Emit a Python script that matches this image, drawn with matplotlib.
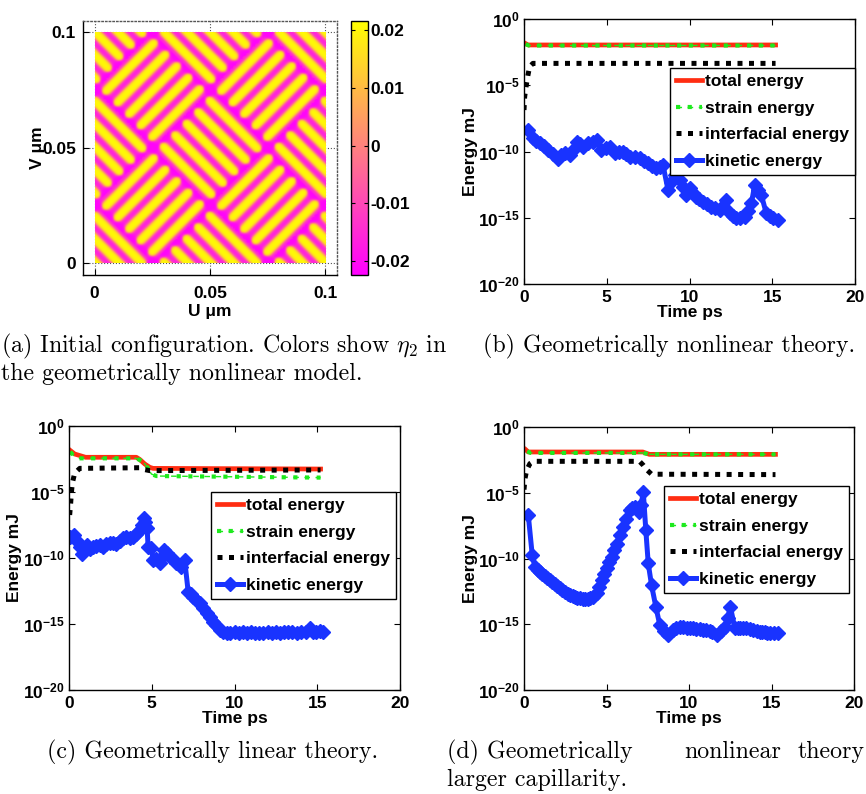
import numpy as np
import matplotlib
matplotlib.use('Agg')
import matplotlib.pyplot as plt
from matplotlib.legend_handler import HandlerTuple
from matplotlib.ticker import NullLocator

# region data
# panel (a): basket-weave pattern of eta_2 (period, stripes per block)
weave_size = 0.1
weave_period = 0.05
stripes_per_block = 5
eta_amp = 0.0215
cbar_lim = (-0.0224, 0.0216)
cbar_ticks = [-0.02, -0.01, 0, 0.01, 0.02]
cbar_labels = ['-0.02', '-0.01', '0', '0.01', '0.02']
uv_ticks = [0, 0.05, 0.1]
uv_labels = ['0', '0.05', '0.1']

# energies as log10(E / mJ), time in ps
b_tot_t = [0.0, 0.25, 15.2]
b_tot_e = [-1.79, -1.96, -1.96]
b_str_t = [0.1, 0.3, 15.2]
b_str_e = [-1.9, -2.0, -2.0]
b_int_t = [0.0, 0.04, 0.14, 0.24, 0.34, 0.54, 15.2]
b_int_e = [-6.87, -5.86, -4.98, -4.23, -3.6, -3.35, -3.35]
b_kin_t = [0.24, 0.54, 0.75, 0.95, 1.2, 1.45, 1.75, 2.05, 2.25, 2.46, 2.76, 3.0, 3.2,
           3.38, 3.56, 3.87, 4.15, 4.41, 4.67, 4.95, 5.22, 5.48, 5.75, 5.98, 6.18,
           6.38, 6.7, 6.99, 7.25, 7.49, 7.75, 8.0, 8.2, 8.4, 8.7, 8.9, 9.1, 9.41, 9.6,
           9.81, 10.0, 10.2, 10.41, 10.6, 10.82, 11.05, 11.32, 11.55, 11.82, 12.0, 12.19,
           12.43, 12.63, 12.83, 13.08, 13.33, 13.55, 13.74, 13.94, 14.15, 14.34, 14.64,
           14.85, 15.05, 15.35]
b_kin_e = [-8.38, -9.0, -9.2, -9.38, -9.6, -9.89, -10.2, -10.59, -10.3, -10.09, -10.26,
           -9.8, -9.26, -9.45, -9.64, -9.38, -9.25, -9.13, -9.89, -9.7, -9.64, -10.14,
           -10.05, -10.01, -10.2, -10.39, -10.45, -10.52, -10.7, -10.89, -11.1, -11.27,
           -11.15, -11.02, -12.9, -12.3, -11.77, -12.15, -12.7, -13.28, -12.78, -13.1,
           -13.41, -13.6, -13.79, -13.95, -14.16, -14.3, -14.42, -14.1, -13.66, -14.67,
           -14.85, -15.04, -15.0, -14.92, -14.5, -13.91, -12.53, -12.9, -13.28, -14.67,
           -14.9, -15.04, -15.17]

c_tot_t = [0.04, 0.34, 1.0, 4.07, 4.27, 4.58, 4.88, 5.08, 15.2]
c_tot_e = [-1.82, -2.12, -2.37, -2.37, -2.53, -2.88, -3.13, -3.21, -3.26]
c_str_t = [0.08, 0.24, 0.6, 4.07, 4.48, 4.78, 4.98, 5.28, 15.2]
c_str_e = [-1.94, -2.2, -2.45, -2.45, -2.7, -3.21, -3.64, -3.79, -3.91]
c_int_t = [0.04, 0.1, 0.14, 0.2, 0.34, 0.65, 4.27, 4.48, 4.88, 15.2]
c_int_e = [-6.74, -5.86, -5.1, -4.34, -3.59, -3.21, -3.16, -3.28, -3.38, -3.33]
c_kin_t = [0.08, 0.28, 0.5, 0.65, 0.81, 1.09, 1.27, 1.45, 1.65, 1.85, 2.05, 2.25, 2.45,
           2.66, 2.86, 3.06, 3.27, 3.47, 3.67, 3.87, 4.07, 4.27, 4.4, 4.52, 4.62, 4.72,
           4.78, 4.98, 5.08, 5.28, 5.48, 5.62, 5.75, 5.92, 6.09, 6.29, 6.49, 6.79, 6.99,
           7.2, 7.35, 7.5, 7.7, 7.9, 8.1, 8.31, 8.51, 8.71, 8.91, 9.11, 9.31, 9.52, 9.75,
           10.0, 10.25, 10.5, 10.75, 11.0, 11.25, 11.5, 11.75, 12.0, 12.25, 12.5, 12.75,
           13.0, 13.25, 13.5, 13.75, 14.0, 14.3, 14.56, 14.75, 14.9, 15.15, 15.36]
c_kin_e = [-8.38, -8.26, -8.7, -9.14, -9.7, -9.02, -9.3, -9.19, -9.1, -9.02, -9.15,
           -8.95, -8.9, -8.89, -8.95, -8.7, -8.5, -8.38, -8.45, -8.38, -8.2, -7.88, -7.5,
           -7.0, -7.3, -7.75, -9.14, -9.27, -10.15, -10.1, -10.4, -9.9, -9.39, -9.6,
           -9.9, -10.1, -10.4, -10.66, -10.15, -12.55, -12.75, -12.93, -13.2, -13.43,
           -13.8, -14.19, -14.5, -14.82, -15.1, -15.45, -15.6, -15.71, -15.66, -15.63,
           -15.65, -15.63, -15.66, -15.63, -15.65, -15.68, -15.65, -15.63, -15.66, -15.63,
           -15.65, -15.6, -15.63, -15.63, -15.65, -15.63, -15.6, -15.28, -15.6, -15.6,
           -15.55, -15.63]

d_tot_t = [0.1, 0.26, 7.2, 7.6, 15.24]
d_tot_e = [-1.72, -1.9, -1.9, -2.08, -2.08]
d_str_t = [0.2, 0.4, 7.2, 7.6, 15.24]
d_str_e = [-1.85, -1.97, -1.97, -2.08, -2.08]
d_int_t = [0.0, 0.06, 0.16, 0.36, 0.57, 7.0, 7.23, 7.43, 7.73, 15.24]
d_int_e = [-4.76, -3.92, -3.29, -2.78, -2.61, -2.61, -2.91, -3.24, -3.59, -3.62]
d_kin_t = [0.26, 0.5, 0.67, 0.82, 0.97, 1.12, 1.27, 1.42, 1.57, 1.72, 1.88, 2.03, 2.18,
           2.33, 2.49, 2.64, 2.79, 2.94, 3.09, 3.24, 3.39, 3.55, 3.7, 3.85, 4.0, 4.2,
           4.4, 4.55, 4.7, 4.85, 5.0, 5.15, 5.31, 5.46, 5.61, 5.81, 6.01, 6.21, 6.42,
           6.57, 6.72, 6.85, 6.98, 7.1, 7.23, 7.38, 7.53, 7.73, 7.99, 8.23, 8.48, 8.74,
           9.04, 9.24, 9.44, 9.65, 9.85, 10.05, 10.25, 10.45, 10.65, 10.85, 11.06, 11.25,
           11.4, 11.67, 11.92, 12.17, 12.35, 12.51, 12.78, 12.95, 13.1, 13.3, 13.48,
           13.7, 13.9, 14.1, 14.29, 14.45, 14.6, 14.75, 14.89, 15.15, 15.4]
d_kin_e = [-6.71, -9.75, -10.63, -10.85, -11.01, -11.17, -11.33, -11.5, -11.65, -11.8,
           -11.97, -12.12, -12.28, -12.42, -12.55, -12.67, -12.78, -12.85, -12.92, -12.98,
           -13.04, -13.06, -13.06, -13.06, -13.04, -12.9, -12.66, -12.2, -11.65, -11.2,
           -10.76, -10.3, -9.87, -9.35, -8.86, -8.2, -7.59, -7.0, -6.33, -6.15, -6.08,
           -6.2, -6.46, -5.9, -4.94, -7.8, -10.38, -12.03, -13.67, -15.06, -15.5, -15.82,
           -15.44, -15.3, -15.19, -15.22, -15.25, -15.28, -15.32, -15.35, -15.38, -15.4,
           -15.44, -15.5, -15.6, -15.82, -15.5, -15.19, -14.5, -13.67, -15.32, -15.3,
           -15.3, -15.31, -15.32, -15.38, -15.45, -15.5, -15.57, -15.6, -15.62, -15.66,
           -15.7, -15.7, -15.7]

legend_labels = ['total energy', 'strain energy', 'interfacial energy', 'kinetic energy']
log_ticks = [-20, -15, -10, -5, 0]
time_ticks = [0, 5, 10, 15, 20]
# endregion

W, H = 866, 794
RED, GREEN, BLUE = '#ff2d12', '#1eea1e', '#1933ff'

plt.rcParams['font.family'] = ['Liberation Sans', 'DejaVu Sans']
plt.rcParams['font.weight'] = 'bold'
plt.rcParams['axes.labelweight'] = 'bold'
plt.rcParams['mathtext.fontset'] = 'custom'
plt.rcParams['mathtext.bf'] = 'Liberation Sans:bold'
plt.rcParams['mathtext.rm'] = 'Liberation Sans:bold'
plt.rcParams['mathtext.it'] = 'Liberation Sans:bold:italic'
plt.rcParams['axes.linewidth'] = 1.0

fig = plt.figure(figsize=(W / 100, H / 100), dpi=100)


def px_axes(l, t, r, b):
    return fig.add_axes([l / W, 1 - b / H, (r - l) / W, (b - t) / H])


def weave():
    x = np.linspace(0, weave_size, 241)
    X, Y = np.meshgrid(x, x)
    B = weave_period / np.sqrt(2)
    U = (X + Y) / np.sqrt(2) / B - 0.5
    V = (X - Y) / np.sqrt(2) / B + 0.5
    i, j = np.floor(U), np.floor(V)
    fu, fv = U - i, V - j
    slash = (i + j) % 2 == 0
    across = np.where(slash, fv, fu)
    along = np.where(slash, fu, fv)
    f = -np.cos(2 * np.pi * stripes_per_block * across) + 0.3
    edge = np.minimum(along, 1 - along)
    f = f - 2.2 * np.exp(-(edge / 0.05) ** 2)
    return eta_amp * np.tanh(1.4 * f)


# region panel a
ax = px_axes(83, 20, 337, 275)
im = ax.imshow(weave(), extent=[0, weave_size, 0, weave_size], origin='lower',
               cmap='spring', vmin=cbar_lim[0], vmax=cbar_lim[1],
               interpolation='bilinear', zorder=2)
ax.set_xlim(-0.005, 0.105)
ax.set_ylim(-0.005, 0.105)
ax.set_xticks(uv_ticks, uv_labels, fontsize=12.5)
ax.set_yticks(uv_ticks, uv_labels, fontsize=12.5)
ax.tick_params(direction='in', length=4, pad=5)
ax.tick_params(axis='x', pad=8)
ax.grid(True, linestyle=':', color='#555555', linewidth=0.8)
ax.set_axisbelow(True)
for s in ['top', 'right']:
    ax.spines[s].set_linestyle(':')
    ax.spines[s].set_color('#555555')
ax.set_xlabel('U μm', fontsize=12.5)
ax.set_ylabel('V μm', fontsize=12.5)
ax.xaxis.set_label_coords(0.5, -0.145)
ax.xaxis.label.set_va('center')
ax.yaxis.set_label_coords(-0.181, 0.5)
ax.yaxis.label.set_va('center')

cax = px_axes(351, 21, 368, 275)
cb = fig.colorbar(im, cax=cax)
cb.set_ticks(cbar_ticks, labels=cbar_labels)
cax.tick_params(direction='in', left=True, right=True, length=3, pad=2, labelsize=12.5)
cb.outline.set_linewidth(1.0)
# endregion


def energy_panel(box, tot, strn, intf, kin, leg_xy):
    ax = px_axes(*box)
    ax.set_yscale('log')
    l_tot, = ax.plot(tot[0], 10.0 ** np.array(tot[1]), color=RED, lw=3.4)
    g_thin, = ax.plot(strn[0], 10.0 ** np.array(strn[1]), color=GREEN, lw=1.0,
                      dashes=(4, 4))
    g_thick, = ax.plot(strn[0], 10.0 ** np.array(strn[1]), color=GREEN, lw=3.0,
                       dashes=(1.0, 1.8), dash_capstyle='butt')
    l_int, = ax.plot(intf[0], 10.0 ** np.array(intf[1]), color='black', lw=3.6,
                     dashes=(1.0, 1.3), dash_capstyle='butt')
    l_kin, = ax.plot(kin[0], 10.0 ** np.array(kin[1]), color=BLUE, lw=3.6,
                     marker='D', ms=7.0, mfc=BLUE, mec=BLUE)
    ax.set_xlim(0, 20)
    ax.set_ylim(1e-20, 1)
    ax.set_xticks(time_ticks, [str(v) for v in time_ticks], fontsize=12.5)
    ax.set_yticks([10.0 ** v for v in log_ticks],
                  [r'$\mathbf{10^{%d}}$' % v for v in log_ticks], fontsize=12.5)
    ax.yaxis.set_minor_locator(NullLocator())
    ax.tick_params(direction='in', length=4, top=True, right=True)
    ax.tick_params(axis='x', pad=4)
    ax.tick_params(axis='y', pad=3)
    ax.set_xlabel('Time ps', fontsize=12.5)
    ax.set_ylabel('Energy mJ', fontsize=12.5)
    hgt = box[3] - box[1]
    wid = box[2] - box[0]
    ax.xaxis.set_label_coords(0.5, -29 / hgt)
    ax.xaxis.label.set_va('center')
    ax.yaxis.set_label_coords(-54 / wid, 0.5)
    ax.yaxis.label.set_va('center')
    leg = ax.legend([l_tot, (g_thin, g_thick), l_int, l_kin], legend_labels,
                    handler_map={tuple: HandlerTuple(ndivide=1)},
                    loc='upper left', bbox_to_anchor=(leg_xy[0] / W, 1 - leg_xy[1] / H),
                    bbox_transform=fig.transFigure, borderaxespad=0, fontsize=12.5,
                    fancybox=False, framealpha=1, edgecolor='black', borderpad=0.35,
                    handlelength=1.5, handletextpad=0.18, labelspacing=0.66)
    leg.get_frame().set_linewidth(1.0)
    return ax


energy_panel((524, 19, 855, 284), (b_tot_t, b_tot_e), (b_str_t, b_str_e),
             (b_int_t, b_int_e), (b_kin_t, b_kin_e), (670, 68))
energy_panel((69, 426, 400, 690), (c_tot_t, c_tot_e), (c_str_t, c_str_e),
             (c_int_t, c_int_e), (c_kin_t, c_kin_e), (211, 492))
energy_panel((524, 427, 854, 690), (d_tot_t, d_tot_e), (d_str_t, d_str_e),
             (d_int_t, d_int_e), (d_kin_t, d_kin_e), (664, 486))

# region captions
cap = dict(fontfamily='cmr10', fontsize=17.2, fontweight='normal', math_fontfamily='cm',
           va='baseline', ha='left')
fig.text(1 / W, 1 - 352 / H, r'(a) Initial configuration. Colors show $\eta_2$ in', **cap)
fig.text(1 / W, 1 - 380 / H, 'the geometrically nonlinear model.', **cap)
fig.text(483 / W, 1 - 352 / H, '(b) Geometrically nonlinear theory.', **cap)
fig.text(47 / W, 1 - 758 / H, '(c) Geometrically linear theory.', **cap)
fig.text(447 / W, 1 - 758 / H, '(d) Geometrically', **cap)
fig.text(684 / W, 1 - 758 / H, 'nonlinear', **cap)
fig.text(798 / W, 1 - 758 / H, 'theory', **cap)
fig.text(447 / W, 1 - 786 / H, 'larger capillarity.', **cap)
# endregion

fig.savefig('out.png', dpi=100)
